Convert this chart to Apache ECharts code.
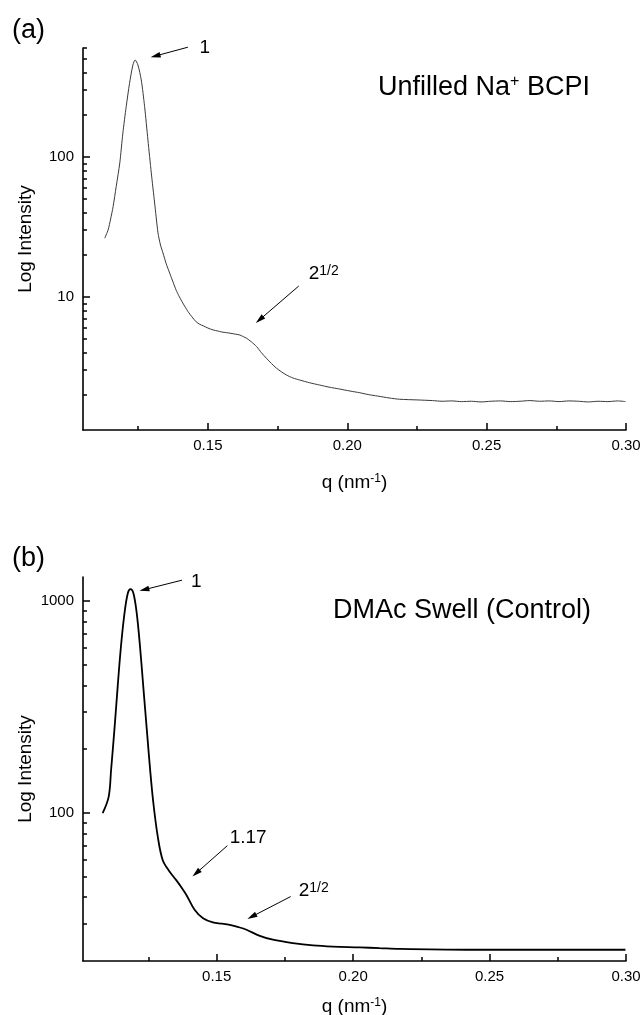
<!DOCTYPE html>
<html>
<head>
<meta charset="utf-8">
<script src="https://cdn.jsdelivr.net/npm/echarts@6/dist/echarts.min.js"></script>
<style>
html, body { margin: 0; padding: 0; background: #fff; }
#chart { width: 644px; height: 1015px; }
</style>
</head>
<body>
<div id="chart"></div>
<script>
// Panel (a): unfilled Na+ BCPI scattering profile
const qA = [
  0.1130, 0.1142, 0.1151, 0.1160, 0.1171, 0.1184, 0.1195, 0.1207, 0.1219, 0.1231,
  0.1239, 0.1249, 0.1261, 0.1273, 0.1285, 0.1297, 0.1309, 0.1321, 0.1330, 0.1339,
  0.1350, 0.1363, 0.1375, 0.1386, 0.1398, 0.1410, 0.1428, 0.1446, 0.1458, 0.1471,
  0.1485, 0.1500, 0.1519, 0.1535, 0.1550, 0.1567, 0.1583, 0.1600, 0.1615, 0.1628,
  0.1639, 0.1655, 0.1675, 0.1692, 0.1710, 0.1728, 0.1746, 0.1764, 0.1782, 0.1805,
  0.1830, 0.1865, 0.1901, 0.1935, 0.1973, 0.2010, 0.2045, 0.2075, 0.2109, 0.2150,
  0.2188, 0.2250, 0.2306, 0.2340, 0.2375, 0.2410, 0.2445, 0.2480, 0.2515, 0.2550,
  0.2585, 0.2620, 0.2655, 0.2690, 0.2725, 0.2760, 0.2795, 0.2830, 0.2865, 0.2900,
  0.2935, 0.2970, 0.2998
];
const intensityA = [
  26.3, 30.1, 36.0, 44.2, 61.3, 90.6, 148, 229, 336, 454,
  493, 454, 355, 229, 132, 76.9, 46.9, 28.7, 23.5, 20.6,
  17.4, 14.8, 12.8, 11.2, 10.0, 9.06, 7.9, 7.08, 6.65, 6.38,
  6.2, 6.0, 5.81, 5.72, 5.62, 5.56, 5.5, 5.42, 5.35, 5.2,
  5.07, 4.8, 4.42, 4.0, 3.65, 3.35, 3.10, 2.92, 2.77, 2.64,
  2.55, 2.44, 2.35, 2.27, 2.20, 2.13, 2.07, 2.01, 1.96, 1.90,
  1.86, 1.84, 1.82, 1.80, 1.81, 1.79, 1.80, 1.78, 1.80, 1.81,
  1.79, 1.80, 1.82, 1.80, 1.81, 1.79, 1.81, 1.80, 1.78, 1.80,
  1.79, 1.81, 1.79
];

// Panel (b): DMAc swell control profile
const qB = [
  0.1082, 0.1104, 0.1113, 0.1125, 0.1137, 0.1149, 0.1162, 0.1174, 0.1184, 0.1195,
  0.1207, 0.1219, 0.1231, 0.1244, 0.1256, 0.1268, 0.1284, 0.1302, 0.1327, 0.1351,
  0.1373, 0.1389, 0.1419, 0.1450, 0.1486, 0.1520, 0.1548, 0.1580, 0.1609, 0.1658,
  0.1706, 0.1779, 0.1853, 0.1926, 0.2024, 0.2097, 0.2170, 0.2415, 0.2658, 0.2998
];
const intensityB = [
  99.7, 119, 160, 246, 394, 609, 875, 1087, 1140, 1087,
  875, 609, 394, 246, 160, 111, 77.3, 60.0, 52.9, 48.3,
  44.1, 41.0, 34.9, 31.8, 30.4, 30.0, 29.6, 28.9, 28.1, 26.3,
  25.2, 24.3, 23.7, 23.4, 23.2, 23.0, 22.8, 22.6, 22.6, 22.6
];

// Axis ticks
const xMajorTicks = [0.15, 0.20, 0.25, 0.30];
const xMinorTicks = [0.125, 0.175, 0.225, 0.275];
const yMajorTicksA = [10, 100];
const yMinorTicksA = [2, 3, 4, 5, 6, 7, 8, 9, 20, 30, 40, 50, 60, 70, 80, 90, 200, 300, 400, 500, 600];
const yMajorTicksB = [100, 1000];
const yMinorTicksB = [30, 40, 50, 60, 70, 80, 90, 200, 300, 400, 500, 600, 700, 800, 900];

// Peak annotations: [label, labelQ, labelI, arrowStartQ, arrowStartI, arrowTipQ, arrowTipI]
const notesA = [
  ['1', 0.14892, 605, 0.14283, 608, 0.12946, 515],
  ['root2', 0.19158, 14.6, 0.18262, 11.98, 0.16720, 6.52]
];
const notesB = [
  ['1', 0.14249, 1235, 0.13729, 1256, 0.12169, 1118],
  ['1.17', 0.16154, 76.5, 0.15392, 70.1, 0.14110, 50.1],
  ['root2', 0.18553, 43.0, 0.17711, 40.3, 0.16125, 31.6]
];

const FONT = '"Liberation Sans", Arial, Helvetica, sans-serif';

function zip(xs, ys) { return xs.map((x, i) => [x, ys[i]]); }

function mainX(gridIndex, min, nameGap) {
  return {
    type: 'value', gridIndex, min, max: 0.30, position: 'bottom',
    name: 'q (nm{s|-1})', nameLocation: 'middle', nameGap, nameMoveOverlap: false,
    nameTextStyle: { fontFamily: FONT, fontSize: 19, color: '#000',
      rich: { s: { fontFamily: FONT, fontSize: 12, color: '#000', verticalAlign: 'top' } } },
    axisLine: { show: true, onZero: false, lineStyle: { color: '#000', width: 1.6 } },
    axisTick: { show: true, inside: true, length: 7, lineStyle: { color: '#000', width: 1.5 }, customValues: xMajorTicks },
    axisLabel: { show: true, margin: 8, fontFamily: FONT, fontSize: 15, color: '#000',
      customValues: xMajorTicks, formatter: v => v.toFixed(2) },
    splitLine: { show: false }
  };
}
function minorX(gridIndex, min) {
  return {
    type: 'value', gridIndex, min, max: 0.30, position: 'bottom',
    axisLine: { show: false, onZero: false },
    axisTick: { show: true, inside: true, length: 4, lineStyle: { color: '#000', width: 1.5 }, customValues: xMinorTicks },
    axisLabel: { show: false },
    splitLine: { show: false }
  };
}
function mainY(gridIndex, min, max, ticks) {
  return {
    type: 'log', logBase: 10, gridIndex, min, max, position: 'left',
    name: 'Log Intensity', nameLocation: 'middle', nameGap: 48, nameMoveOverlap: false,
    nameTextStyle: { fontFamily: FONT, fontSize: 19, color: '#000' },
    axisLine: { show: true, onZero: false, lineStyle: { color: '#000', width: 1.6 } },
    axisTick: { show: true, inside: true, length: 7, lineStyle: { color: '#000', width: 1.5 }, customValues: ticks },
    axisLabel: { show: true, margin: 9, fontFamily: FONT, fontSize: 15, color: '#000',
      customValues: ticks, formatter: v => String(Math.round(v)) },
    splitLine: { show: false }
  };
}
function minorY(gridIndex, min, max, ticks) {
  return {
    type: 'log', logBase: 10, gridIndex, min, max, position: 'left',
    axisLine: { show: false, onZero: false },
    axisTick: { show: true, inside: true, length: 4, lineStyle: { color: '#000', width: 1.5 }, customValues: ticks },
    axisLabel: { show: false },
    splitLine: { show: false }
  };
}

const chart = echarts.init(document.getElementById('chart'), null, { renderer: 'canvas' });
const baseGraphic = [
  { type: 'text', left: 12, top: 17, style: { text: '(a)', font: '27px ' + FONT, fill: '#000' } },
  { type: 'text', left: 12, top: 545, style: { text: '(b)', font: '27px ' + FONT, fill: '#000' } },
  { type: 'text', left: 378, top: 74, style: {
      text: '{m|Unfilled Na}{s|+}{m| BCPI}', fill: '#000',
      rich: { m: { fontFamily: FONT, fontSize: 27, fill: '#000' },
              s: { fontFamily: FONT, fontSize: 16, fill: '#000', verticalAlign: 'top' } } } },
  { type: 'text', left: 333, top: 597, style: { text: 'DMAc Swell (Control)', font: '27px ' + FONT, fill: '#000' } }
];

chart.setOption({
  backgroundColor: '#fff',
  animation: false,
  grid: [
    { left: 83, right: 18, top: 48, height: 382, outerBoundsMode: 'none', containLabel: false },
    { left: 83, right: 18, top: 577, height: 384, outerBoundsMode: 'none', containLabel: false }
  ],
  xAxis: [mainX(0, 0.1052, 43), minorX(0, 0.1052), mainX(1, 0.1010, 36), minorX(1, 0.1010)],
  yAxis: [
    mainY(0, 1.122, 600, yMajorTicksA), minorY(0, 1.122, 600, yMinorTicksA),
    mainY(1, 20, 1300, yMajorTicksB), minorY(1, 20, 1300, yMinorTicksB)
  ],
  series: [
    {
      type: 'line', xAxisIndex: 0, yAxisIndex: 0, data: zip(qA, intensityA),
      showSymbol: false, smooth: 0.25,
      lineStyle: { color: '#3a3a3a', width: 1 }
    },
    {
      type: 'line', xAxisIndex: 2, yAxisIndex: 2, data: zip(qB, intensityB),
      showSymbol: false, smooth: 0.35,
      lineStyle: { color: '#000', width: 1.8 }
    }
  ],
  graphic: baseGraphic
});

// Arrows and peak labels, placed through each panel's axes
const noteRich = {
  b: { fontFamily: FONT, fontSize: 19, fill: '#000' },
  s: { fontFamily: FONT, fontSize: 14, fill: '#000', verticalAlign: 'top' }
};
function noteText(t) { return t === 'root2' ? '{b|2}{s|1/2}' : '{b|' + t + '}'; }

function annotate(notes, axisIdx) {
  const finder = { xAxisIndex: axisIdx, yAxisIndex: axisIdx };
  const out = [];
  notes.forEach(n => {
    const lp = chart.convertToPixel(finder, [n[1], n[2]]);
    const sp = chart.convertToPixel(finder, [n[3], n[4]]);
    const tp = chart.convertToPixel(finder, [n[5], n[6]]);
    const dx = tp[0] - sp[0], dy = tp[1] - sp[1];
    const len = Math.sqrt(dx * dx + dy * dy);
    const ux = dx / len, uy = dy / len;
    const headLen = 10, headHalf = 2.8;
    const bx = tp[0] - ux * headLen, by = tp[1] - uy * headLen;
    out.push({ type: 'line', silent: true,
      shape: { x1: sp[0], y1: sp[1], x2: bx + ux * 2, y2: by + uy * 2 },
      style: { stroke: '#000', lineWidth: 1 } });
    out.push({ type: 'polygon', silent: true,
      shape: { points: [[tp[0], tp[1]], [bx - uy * headHalf, by + ux * headHalf], [bx + uy * headHalf, by - ux * headHalf]] },
      style: { fill: '#000' } });
    out.push({ type: 'text', silent: true, x: lp[0], y: lp[1],
      style: { text: noteText(n[0]), rich: noteRich, fill: '#000',
        align: 'center', verticalAlign: 'middle' } });
  });
  return out;
}

chart.setOption({ graphic: baseGraphic.concat(annotate(notesA, 0), annotate(notesB, 2)) });
</script>
</body>
</html>
